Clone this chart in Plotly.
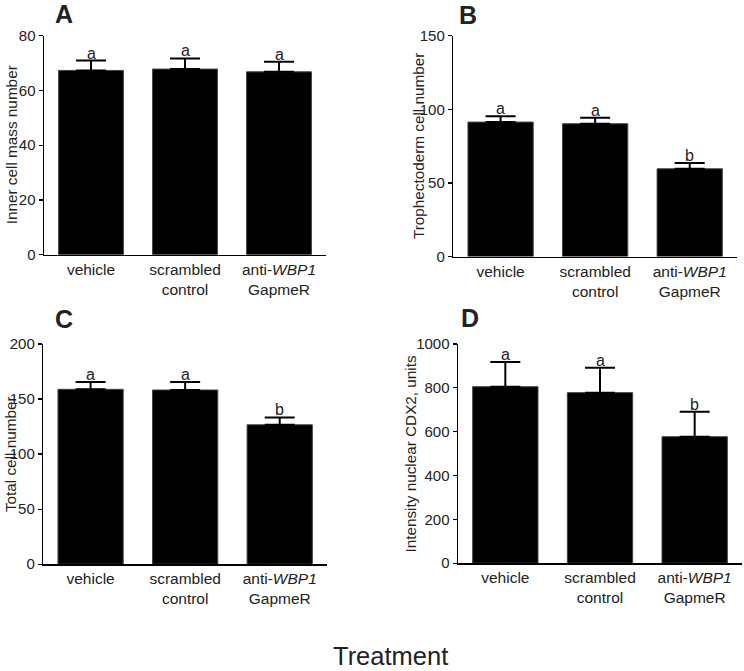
import plotly.graph_objects as go

categories = ["vehicle", "scrambled<br>control", "anti-<i>WBP1</i><br>GapmeR"]

icm_mean = [67.3, 67.8, 66.8]
icm_sem = [3.6, 3.9, 3.7]
icm_sig = ["a", "a", "a"]

te_mean = [91.3, 90.2, 59.6]
te_sem = [3.9, 4.1, 3.9]
te_sig = ["a", "a", "b"]

total_mean = [158.8, 158.2, 126.6]
total_sem = [6.7, 7.3, 6.7]
total_sig = ["a", "a", "b"]

cdx2_mean = [805, 778, 577]
cdx2_sem = [113, 114, 114]
cdx2_sig = ["a", "a", "b"]

W, H = 744, 671


def py(t):
    # pixel-from-top target in the photographed picture -> paper fraction
    return 1 - ((t - 9.4) / 0.9736) / H


panels = [
    dict(letter="A", mean=icm_mean, sem=icm_sem, sig=icm_sig, title="Inner cell mass number",
         ymax=80, dtick=20, xd=[44, 326], yd=[255, 36], lx=64, ly=14, tx=11),
    dict(letter="B", mean=te_mean, sem=te_sem, sig=te_sig, title="Trophectoderm cell number",
         ymax=150, dtick=50, xd=[453.3, 737], yd=[256.7, 36], lx=468, ly=15, tx=418),
    dict(letter="C", mean=total_mean, sem=total_sem, sig=total_sig, title="Total cell number",
         ymax=200, dtick=50, xd=[43.3, 327], yd=[564, 344], lx=64, ly=319, tx=10),
    dict(letter="D", mean=cdx2_mean, sem=cdx2_sem, sig=cdx2_sig, title="Intensity nuclear CDX2, units",
         ymax=1000, dtick=200, xd=[458, 742], yd=[563, 344], lx=469.5, ly=318.5, tx=411),
]

FONT = "Liberation Sans, Arial, sans-serif"
fig = go.Figure()
annotations = []

for i, p in enumerate(panels):
    k = "" if i == 0 else str(i + 1)
    fig.add_trace(go.Bar(
        x=[0, 1, 2], y=p["mean"], width=0.69,
        marker=dict(color="black", line=dict(color="#444", width=1)),
        error_y=dict(type="data", symmetric=False, array=p["sem"], arrayminus=[0, 0, 0],
                     color="black", thickness=2, width=15),
        xaxis="x" + k, yaxis="y" + k, showlegend=False, hoverinfo="skip",
    ))
    fig.layout["xaxis" + k] = dict(
        domain=[p["xd"][0] / W, p["xd"][1] / W], anchor="y" + k, range=[-0.5, 2.5],
        tickvals=[0, 1, 2], ticktext=categories, ticks="", showgrid=False, zeroline=False,
        showline=True, linecolor="black", linewidth=1.5,
        tickfont=dict(family=FONT, size=15.5, color="#222"), fixedrange=True,
    )
    fig.layout["yaxis" + k] = dict(
        domain=[py(p["yd"][0]), py(p["yd"][1])], anchor="x" + k, range=[0, p["ymax"]],
        dtick=p["dtick"], tick0=0,
        ticks="outside", ticklen=4, tickwidth=1.2, tickcolor="black",
        showgrid=False, zeroline=False, showline=True, linecolor="black", linewidth=1.5,
        tickfont=dict(family=FONT, size=15, color="#222"), fixedrange=True,
    )
    for j in range(3):
        annotations.append(dict(
            x=j, y=p["mean"][j] + p["sem"][j], xref="x" + k, yref="y" + k,
            text=p["sig"][j], showarrow=False, yanchor="bottom", yshift=-3,
            font=dict(family=FONT, size=16, color="#222"),
        ))
    annotations.append(dict(
        x=p["lx"] / W, y=py(p["ly"]), xref="paper", yref="paper", text="<b>%s</b>" % p["letter"],
        showarrow=False, xanchor="center", yanchor="middle",
        font=dict(family=FONT, size=25, color="#222"),
    ))
    annotations.append(dict(
        x=p["tx"] / W, y=py((p["yd"][0] + p["yd"][1]) / 2), xref="paper", yref="paper",
        text=p["title"], textangle=-90, showarrow=False, xanchor="center", yanchor="middle",
        font=dict(family=FONT, size=15.3, color="#222"),
    ))

annotations.append(dict(
    x=390 / W, y=py(655.5), xref="paper", yref="paper", text="Treatment",
    showarrow=False, xanchor="center", yanchor="middle", borderpad=0,
    font=dict(family=FONT, size=25.5, color="#222"),
))

fig.update_layout(
    width=W, height=H, autosize=False, margin=dict(l=0, r=0, t=0, b=0, pad=0),
    paper_bgcolor="white", plot_bgcolor="white",
    annotations=annotations,
)

fig.write_html(
    "out.html",
    config={"displayModeBar": False, "responsive": False, "staticPlot": True},
    post_script="document.body.style.margin='0';document.body.style.overflow='hidden';",
)
